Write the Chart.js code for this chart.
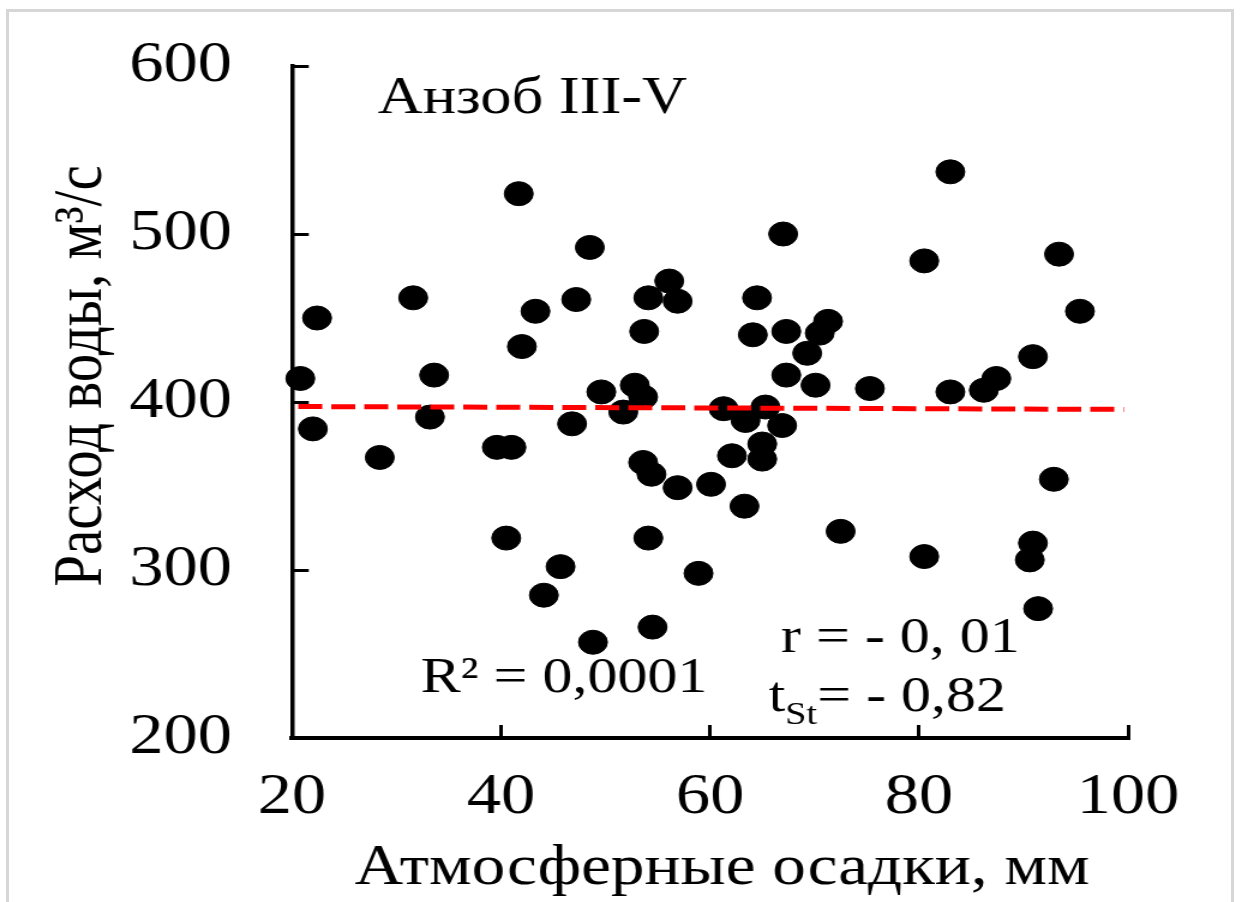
<!DOCTYPE html>
<html>
<head>
<meta charset="utf-8">
<script src="https://cdn.jsdelivr.net/npm/chart.js@4.4.1/dist/chart.umd.min.js"></script>
<style>
  html, body { margin: 0; padding: 0; background: #fff; }
  #frame {
    position: absolute; left: 6px; top: 9px; width: 1222px; height: 900px;
    border: 3px solid #d6d6d6; border-bottom: none;
  }
  /* the whole plot is drawn a bit narrower and widened horizontally */
  #wrap {
    position: absolute; left: 0; top: 0; width: 1033.33px; height: 902px;
    transform: scaleX(1.2); transform-origin: 0 0;
  }
</style>
</head>
<body>
<div id="frame"></div>
<div id="wrap"><canvas id="chart"></canvas></div>
<script>
// precipitation, mm
const precip = [20.8, 22.0, 22.4, 28.4, 31.6, 33.2, 33.6, 39.6, 41.0, 40.5,
  41.7, 42.0, 43.3, 44.1, 45.7, 46.8, 47.2, 48.5, 48.8, 49.6,
  51.7, 52.8, 53.6, 53.7, 53.6, 54.1, 54.1, 54.4, 54.5, 56.1,
  56.9, 56.9, 58.9, 60.1, 61.3, 62.1, 63.3, 63.4, 64.1, 64.5,
  65.0, 65.0, 65.3, 66.9, 67.0, 67.3, 67.3, 69.3, 70.1, 70.5,
  71.3, 72.5, 75.3, 80.5, 80.5, 83.0, 83.0, 86.2, 87.4, 90.9,
  90.9, 90.6, 91.4, 92.9, 93.4, 95.4];
// water discharge, m3/s
const discharge = [414, 384, 450, 367, 462, 391, 416, 373, 373, 319,
  524, 433, 454, 285, 302, 387, 461, 492, 257, 406,
  394, 410, 403, 442, 364, 462, 319, 357, 266, 472,
  460, 349, 298, 351, 396, 368, 338, 389, 440, 462,
  375, 366, 397, 386, 500, 442, 416, 429, 410, 441,
  448, 323, 408, 484, 308, 537, 406, 407, 414, 427,
  316, 306, 277, 354, 488, 454];
// linear trend, ends of the line
const trendX = [20.6, 99.6];
const trendY = [397.3, 395.6];

const xTicks = [20, 40, 60, 80, 100];
const yTicks = [200, 300, 400, 500, 600];

const serif = '"Liberation Serif", "Times New Roman", serif';

const points = precip.map((v, i) => ({ x: v, y: discharge[i] }));
const trend = trendX.map((v, i) => ({ x: v, y: trendY[i] }));

// titles and the statistics written inside the plot
const annotate = {
  id: 'annotate',
  afterDraw(chart) {
    const { ctx, scales: { x, y } } = chart;
    ctx.save();
    ctx.fillStyle = '#000';
    ctx.textBaseline = 'alphabetic';

    ctx.font = '52px ' + serif;
    ctx.textAlign = 'left';
    ctx.fillText('Анзоб III-V', x.getPixelForValue(28.2), y.getPixelForValue(572));

    ctx.font = '50px ' + serif;
    ctx.fillText('R² = 0,0001', x.getPixelForValue(32.3), y.getPixelForValue(227.4));
    ctx.fillText('r = - 0, 01', x.getPixelForValue(66.8), y.getPixelForValue(251.2));

    const tx = x.getPixelForValue(65.6), ty = y.getPixelForValue(216.1);
    ctx.fillText('t', tx, ty);
    const tw = ctx.measureText('t').width;
    ctx.font = '32px ' + serif;
    ctx.fillText('St', tx + tw, ty + 13);
    const sw = ctx.measureText('St').width;
    ctx.font = '50px ' + serif;
    ctx.fillText('= - 0,82', tx + tw + sw, ty);

    // axis titles
    ctx.font = '56px ' + serif;
    ctx.textAlign = 'center';
    ctx.fillText('Атмосферные осадки, мм', (x.left + x.right) / 2 + 10, 884);

    ctx.font = '57px ' + serif;
    ctx.translate(84, 376);
    ctx.rotate(-Math.PI / 2);
    ctx.fillText('Расход воды, м³/с', 0, 0);
    ctx.restore();
  }
};

new Chart(document.getElementById('chart'), {
  type: 'scatter',
  data: {
    datasets: [
      {
        type: 'line',
        data: trend,
        borderColor: '#ff0000',
        borderWidth: 5,
        borderDash: [20, 7.5],
        pointRadius: 0,
        fill: false,
        order: 0
      },
      {
        data: points,
        backgroundColor: '#000',
        borderColor: '#000',
        pointRadius: 12,
        pointHoverRadius: 12,
        clip: false,
        order: 1
      }
    ]
  },
  options: {
    responsive: true,
    maintainAspectRatio: false,
    animation: false,
    layout: { padding: { left: 0, right: 93.3, top: 66, bottom: 0 } },
    plugins: { legend: { display: false }, tooltip: { enabled: false } },
    scales: {
      x: {
        type: 'linear',
        min: 20,
        max: 100,
        afterBuildTicks: s => { s.ticks = xTicks.map(v => ({ value: v })); },
        afterFit: s => { s.height = 164; },
        border: { display: true, color: '#000', width: 4 },
        grid: { drawOnChartArea: false, drawTicks: true, tickLength: -13, tickWidth: 3, tickColor: '#000' },
        ticks: { color: '#000', font: { family: serif, size: 57 }, padding: 39, maxRotation: 0 }
      },
      y: {
        type: 'linear',
        min: 200,
        max: 600,
        afterBuildTicks: s => { s.ticks = yTicks.map(v => ({ value: v })); },
        // keep the wide label gap from pushing the plot down
        afterFit: s => { s.width = 243.3; s.paddingTop = 0; s.paddingBottom = 0; },
        border: { display: true, color: '#000', width: 3.5 },
        grid: { drawOnChartArea: false, drawTicks: true, tickLength: -14, tickWidth: 3, tickColor: '#000' },
        ticks: { color: '#000', font: { family: serif, size: 57 }, padding: 64 }
      }
    }
  },
  plugins: [annotate]
});
</script>
</body>
</html>
